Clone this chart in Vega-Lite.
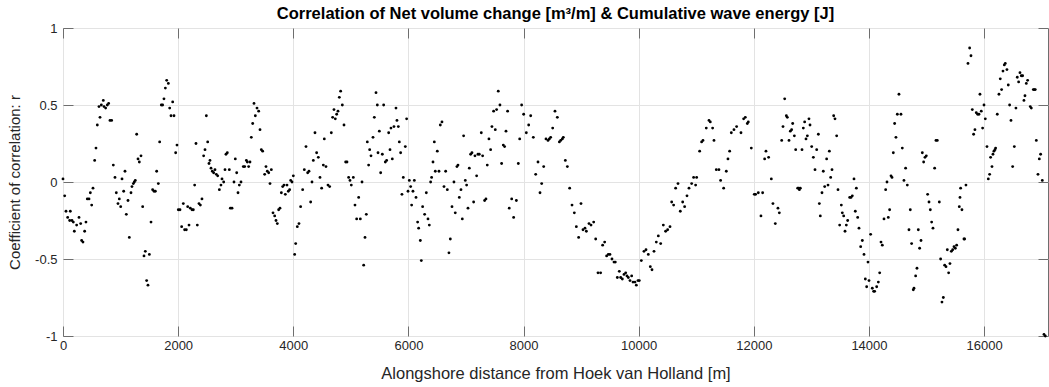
{
"$schema": "https://vega.github.io/schema/vega-lite/v6.json",
"width": 985, "height": 308,
"autosize": {"type": "none"},
"padding": {"left": 63, "top": 28, "right": 1, "bottom": 51},
"background": "white",
"title": {"text": "Correlation of Net volume change [m³/m] & Cumulative wave energy [J]", "fontSize": 16.5, "fontWeight": "bold", "font": "Liberation Sans", "color": "#000000", "offset": 0, "anchor": "middle"},
"config": {"view": {"stroke": "#6e6e6e", "strokeWidth": 1}, "font": "Liberation Sans"},
"data": {"values": [
{"d":0,"r":0.02},{"d":29,"r":-0.09},{"d":52,"r":-0.19},{"d":81,"r":-0.23},{"d":116,"r":-0.25},{"d":127,"r":-0.19},{"d":156,"r":-0.25},{"d":179,"r":-0.26},{"d":197,"r":-0.32},{"d":237,"r":-0.28},{"d":278,"r":-0.23},{"d":307,"r":-0.27},{"d":324,"r":-0.38},{"d":347,"r":-0.39},{"d":376,"r":-0.32},{"d":399,"r":-0.26},{"d":422,"r":-0.11},{"d":452,"r":-0.11},{"d":475,"r":-0.07},{"d":498,"r":-0.15},{"d":521,"r":-0.04},{"d":550,"r":0.14},{"d":573,"r":0.22},{"d":596,"r":0.37},{"d":625,"r":0.49},{"d":643,"r":0.42},{"d":666,"r":0.5},{"d":700,"r":0.53},{"d":712,"r":0.49},{"d":741,"r":0.48},{"d":770,"r":0.5},{"d":793,"r":0.51},{"d":816,"r":0.4},{"d":845,"r":0.4},{"d":874,"r":0.11},{"d":903,"r":0.03},{"d":926,"r":-0.07},{"d":955,"r":-0.14},{"d":978,"r":-0.11},{"d":1002,"r":-0.16},{"d":1025,"r":0.02},{"d":1054,"r":-0.06},{"d":1077,"r":0.07},{"d":1100,"r":-0.21},{"d":1129,"r":-0.12},{"d":1152,"r":-0.36},{"d":1181,"r":-0.07},{"d":1198,"r":-0.03},{"d":1222,"r":-0.01},{"d":1239,"r":0.0},{"d":1256,"r":0.01},{"d":1280,"r":0.31},{"d":1303,"r":0.15},{"d":1326,"r":0.13},{"d":1355,"r":0.17},{"d":1384,"r":-0.16},{"d":1407,"r":-0.48},{"d":1430,"r":-0.45},{"d":1453,"r":-0.64},{"d":1476,"r":-0.67},{"d":1500,"r":-0.47},
{"d":1529,"r":-0.26},{"d":1557,"r":-0.05},{"d":1581,"r":-0.06},{"d":1604,"r":-0.06},{"d":1627,"r":0.07},{"d":1656,"r":-0.01},{"d":1679,"r":0.26},{"d":1708,"r":0.5},{"d":1731,"r":0.5},{"d":1754,"r":0.54},{"d":1778,"r":0.61},{"d":1801,"r":0.66},{"d":1830,"r":0.64},{"d":1853,"r":0.48},{"d":1876,"r":0.43},{"d":1905,"r":0.52},{"d":1928,"r":0.43},{"d":1957,"r":0.19},{"d":1980,"r":0.24},{"d":2003,"r":-0.18},{"d":2032,"r":-0.18},{"d":2061,"r":-0.29},{"d":2090,"r":-0.14},{"d":2113,"r":-0.31},{"d":2142,"r":-0.31},{"d":2166,"r":-0.16},{"d":2189,"r":-0.28},{"d":2212,"r":-0.17},{"d":2241,"r":-0.18},{"d":2264,"r":-0.18},{"d":2287,"r":-0.02},{"d":2310,"r":0.25},{"d":2333,"r":-0.28},{"d":2362,"r":-0.14},{"d":2386,"r":-0.15},{"d":2414,"r":-0.11},{"d":2443,"r":0.17},{"d":2467,"r":0.21},{"d":2490,"r":0.43},{"d":2513,"r":0.26},{"d":2536,"r":0.12},{"d":2553,"r":0.14},{"d":2571,"r":0.09},{"d":2594,"r":0.07},{"d":2617,"r":0.06},{"d":2640,"r":0.08},{"d":2663,"r":0.05},{"d":2687,"r":0.04},{"d":2716,"r":-0.05},{"d":2744,"r":-0.02},{"d":2762,"r":0.02},{"d":2791,"r":0.0},{"d":2814,"r":0.08},{"d":2831,"r":0.18},{"d":2854,"r":0.19},{"d":2889,"r":0.08},{"d":2907,"r":-0.17},{"d":2936,"r":-0.17},{"d":2970,"r":0.0},{"d":2993,"r":0.15},{"d":3017,"r":0.06},{"d":3040,"r":-0.07},{"d":3063,"r":-0.02},
{"d":3092,"r":0.0},{"d":3132,"r":0.1},{"d":3156,"r":0.1},{"d":3185,"r":0.14},{"d":3202,"r":0.13},{"d":3225,"r":0.1},{"d":3248,"r":0.13},{"d":3271,"r":0.29},{"d":3295,"r":0.38},{"d":3318,"r":0.51},{"d":3341,"r":0.43},{"d":3370,"r":0.48},{"d":3399,"r":0.46},{"d":3422,"r":0.34},{"d":3445,"r":0.21},{"d":3468,"r":0.2},{"d":3503,"r":0.05},{"d":3526,"r":0.1},{"d":3549,"r":0.07},{"d":3573,"r":0.06},{"d":3596,"r":-0.01},{"d":3619,"r":0.08},{"d":3648,"r":-0.2},{"d":3677,"r":-0.22},{"d":3700,"r":-0.25},{"d":3723,"r":-0.27},{"d":3746,"r":-0.18},{"d":3769,"r":-0.17},{"d":3793,"r":-0.07},{"d":3816,"r":-0.03},{"d":3839,"r":-0.02},{"d":3862,"r":-0.08},{"d":3891,"r":-0.02},{"d":3914,"r":-0.06},{"d":3937,"r":-0.05},{"d":3955,"r":0.01},{"d":3978,"r":0.0},{"d":4001,"r":0.04},{"d":4024,"r":-0.47},{"d":4042,"r":-0.4},{"d":4070,"r":-0.29},{"d":4099,"r":-0.27},{"d":4128,"r":-0.16},{"d":4163,"r":-0.05},{"d":4192,"r":0.08},{"d":4221,"r":0.23},{"d":4250,"r":0.06},{"d":4273,"r":0.07},{"d":4302,"r":-0.13},{"d":4325,"r":0.0},{"d":4348,"r":0.14},{"d":4377,"r":0.32},{"d":4406,"r":0.19},{"d":4435,"r":0.16},{"d":4464,"r":0.03},{"d":4493,"r":-0.04},{"d":4522,"r":0.11},{"d":4539,"r":0.28},{"d":4568,"r":0.1},{"d":4603,"r":-0.02},{"d":4632,"r":-0.03},
{"d":4661,"r":0.32},{"d":4684,"r":0.42},{"d":4707,"r":0.47},{"d":4730,"r":0.41},{"d":4754,"r":0.44},{"d":4777,"r":0.46},{"d":4800,"r":0.55},{"d":4823,"r":0.59},{"d":4852,"r":0.5},{"d":4881,"r":0.37},{"d":4910,"r":0.13},{"d":4933,"r":0.13},{"d":4962,"r":0.03},{"d":4985,"r":0.01},{"d":5008,"r":-0.02},{"d":5043,"r":0.03},{"d":5072,"r":-0.15},{"d":5101,"r":-0.24},{"d":5136,"r":-0.1},{"d":5165,"r":-0.24},{"d":5194,"r":0.0},{"d":5223,"r":-0.54},{"d":5246,"r":-0.36},{"d":5269,"r":-0.21},{"d":5286,"r":0.26},{"d":5309,"r":0.11},{"d":5327,"r":0.21},{"d":5350,"r":0.17},{"d":5385,"r":0.29},{"d":5408,"r":0.42},{"d":5437,"r":0.58},{"d":5460,"r":0.5},{"d":5472,"r":0.19},{"d":5495,"r":0.33},{"d":5518,"r":0.06},{"d":5547,"r":0.18},{"d":5570,"r":0.5},{"d":5599,"r":0.13},{"d":5622,"r":0.14},{"d":5657,"r":0.32},{"d":5680,"r":0.21},{"d":5697,"r":0.35},{"d":5720,"r":0.15},{"d":5749,"r":0.36},{"d":5784,"r":0.48},{"d":5801,"r":0.4},{"d":5825,"r":0.36},{"d":5842,"r":0.26},{"d":5865,"r":0.19},{"d":5888,"r":-0.08},{"d":5911,"r":0.03},{"d":5946,"r":0.23},{"d":5969,"r":0.41},{"d":5993,"r":-0.06},{"d":6016,"r":0.01},{"d":6039,"r":-0.03},{"d":6056,"r":-0.15},{"d":6079,"r":-0.06},{"d":6103,"r":0.01},{"d":6132,"r":-0.1},{"d":6160,"r":-0.26},{"d":6178,"r":-0.3},
{"d":6207,"r":-0.38},{"d":6224,"r":-0.51},{"d":6247,"r":-0.16},{"d":6282,"r":-0.21},{"d":6311,"r":-0.07},{"d":6340,"r":-0.24},{"d":6363,"r":-0.28},{"d":6386,"r":0.0},{"d":6403,"r":0.03},{"d":6427,"r":0.13},{"d":6450,"r":0.26},{"d":6467,"r":0.07},{"d":6502,"r":0.2},{"d":6531,"r":0.07},{"d":6554,"r":0.37},{"d":6583,"r":0.39},{"d":6618,"r":-0.03},{"d":6647,"r":0.07},{"d":6676,"r":-0.05},{"d":6704,"r":-0.46},{"d":6728,"r":-0.37},{"d":6757,"r":-0.16},{"d":6791,"r":0.0},{"d":6814,"r":-0.2},{"d":6843,"r":0.1},{"d":6861,"r":0.11},{"d":6884,"r":-0.1},{"d":6913,"r":-0.05},{"d":6936,"r":-0.24},{"d":6959,"r":0.3},{"d":6988,"r":0.01},{"d":7011,"r":-0.02},{"d":7035,"r":-0.17},{"d":7058,"r":0.09},{"d":7081,"r":0.18},{"d":7104,"r":0.19},{"d":7133,"r":-0.13},{"d":7156,"r":0.17},{"d":7185,"r":0.04},{"d":7208,"r":0.18},{"d":7231,"r":0.18},{"d":7266,"r":0.32},{"d":7289,"r":0.17},{"d":7324,"r":-0.12},{"d":7347,"r":-0.11},{"d":7370,"r":0.11},{"d":7399,"r":0.28},{"d":7428,"r":0.21},{"d":7451,"r":0.36},{"d":7480,"r":0.46},{"d":7509,"r":0.34},{"d":7532,"r":0.47},{"d":7561,"r":0.59},{"d":7590,"r":0.5},{"d":7619,"r":0.12},{"d":7648,"r":0.24},{"d":7671,"r":0.23},{"d":7695,"r":0.33},{"d":7723,"r":0.46},{"d":7752,"r":-0.17},
{"d":7794,"r":-0.11},{"d":7828,"r":-0.23},{"d":7875,"r":-0.12},{"d":7909,"r":0.12},{"d":7933,"r":0.28},{"d":7967,"r":0.5},{"d":8002,"r":0.44},{"d":8048,"r":0.32},{"d":8089,"r":0.37},{"d":8124,"r":0.43},{"d":8170,"r":0.29},{"d":8211,"r":0.05},{"d":8251,"r":0.13},{"d":8286,"r":-0.07},{"d":8315,"r":-0.01},{"d":8350,"r":0.1},{"d":8390,"r":0.28},{"d":8425,"r":0.27},{"d":8448,"r":0.28},{"d":8471,"r":0.29},{"d":8506,"r":0.35},{"d":8546,"r":0.46},{"d":8587,"r":0.42},{"d":8622,"r":0.26},{"d":8645,"r":0.27},{"d":8674,"r":0.28},{"d":8691,"r":0.29},{"d":8726,"r":0.14},{"d":8761,"r":0.1},{"d":8801,"r":-0.04},{"d":8842,"r":-0.15},{"d":8882,"r":-0.2},{"d":8917,"r":-0.29},{"d":8957,"r":-0.36},{"d":8998,"r":-0.14},{"d":9033,"r":-0.31},{"d":9067,"r":-0.3},{"d":9091,"r":-0.32},{"d":9137,"r":-0.27},{"d":9172,"r":-0.28},{"d":9218,"r":-0.26},{"d":9253,"r":-0.37},{"d":9293,"r":-0.59},
{"d":9339,"r":-0.59},{"d":9374,"r":-0.41},{"d":9409,"r":-0.39},{"d":9443,"r":-0.48},{"d":9472,"r":-0.47},{"d":9501,"r":-0.47},{"d":9536,"r":-0.5},{"d":9571,"r":-0.52},{"d":9594,"r":-0.52},{"d":9629,"r":-0.62},{"d":9663,"r":-0.58},{"d":9687,"r":-0.62},{"d":9716,"r":-0.63},{"d":9745,"r":-0.6},{"d":9774,"r":-0.59},{"d":9797,"r":-0.61},{"d":9820,"r":-0.62},{"d":9849,"r":-0.64},{"d":9878,"r":-0.61},{"d":9901,"r":-0.65},{"d":9936,"r":-0.65},{"d":9959,"r":-0.67},{"d":9988,"r":-0.64},{"d":10011,"r":-0.64},{"d":10046,"r":-0.51},{"d":10092,"r":-0.45},{"d":10127,"r":-0.44},{"d":10167,"r":-0.47},{"d":10202,"r":-0.55},{"d":10231,"r":-0.57},{"d":10266,"r":-0.45},{"d":10306,"r":-0.39},{"d":10341,"r":-0.35},{"d":10382,"r":-0.4},{"d":10428,"r":-0.28},{"d":10468,"r":-0.32},{"d":10503,"r":-0.31},{"d":10544,"r":-0.29},{"d":10573,"r":-0.13},{"d":10607,"r":-0.15},{"d":10642,"r":-0.04},{"d":10683,"r":-0.01},{"d":10723,"r":-0.19},{"d":10764,"r":-0.13},{"d":10798,"r":-0.16},{"d":10839,"r":-0.09},{"d":10874,"r":-0.04},
{"d":10920,"r":-0.01},{"d":10954,"r":0.03},{"d":10989,"r":-0.02},{"d":11007,"r":0.03},{"d":11059,"r":0.2},{"d":11093,"r":0.26},{"d":11117,"r":0.27},{"d":11174,"r":0.35},{"d":11221,"r":0.4},{"d":11244,"r":0.39},{"d":11284,"r":0.35},{"d":11308,"r":0.27},{"d":11348,"r":0.08},{"d":11394,"r":0.08},{"d":11423,"r":0.01},{"d":11476,"r":-0.04},{"d":11522,"r":0.07},{"d":11551,"r":0.15},{"d":11580,"r":0.2},{"d":11609,"r":0.32},{"d":11655,"r":0.34},{"d":11701,"r":0.36},{"d":11777,"r":0.32},{"d":11823,"r":0.41},{"d":11852,"r":0.42},{"d":11887,"r":0.38},{"d":11904,"r":0.39},{"d":11956,"r":0.22},{"d":12008,"r":-0.08},{"d":12031,"r":-0.08},{"d":12078,"r":-0.07},{"d":12124,"r":-0.22},{"d":12153,"r":-0.07},{"d":12188,"r":0.15},{"d":12211,"r":0.2},{"d":12257,"r":0.16},{"d":12304,"r":0.02},{"d":12332,"r":-0.14},{"d":12373,"r":-0.27},{"d":12419,"r":-0.17},{"d":12443,"r":-0.2},
{"d":12484,"r":0.27},{"d":12507,"r":0.36},{"d":12536,"r":0.54},{"d":12565,"r":0.43},{"d":12582,"r":0.42},{"d":12611,"r":0.27},{"d":12634,"r":0.33},{"d":12657,"r":0.34},{"d":12675,"r":0.38},{"d":12704,"r":0.3},{"d":12727,"r":0.21},{"d":12762,"r":-0.04},{"d":12779,"r":-0.04},{"d":12791,"r":-0.05},{"d":12808,"r":-0.04},{"d":12837,"r":0.21},{"d":12860,"r":0.35},{"d":12883,"r":0.39},{"d":12906,"r":0.28},{"d":12930,"r":0.3},{"d":12958,"r":0.41},{"d":12976,"r":0.37},{"d":13005,"r":0.23},{"d":13034,"r":0.16},{"d":13063,"r":0.08},{"d":13092,"r":0.21},{"d":13121,"r":0.31},{"d":13138,"r":-0.14},{"d":13155,"r":-0.22},{"d":13184,"r":-0.07},{"d":13207,"r":0.07},{"d":13231,"r":-0.03},{"d":13265,"r":0.15},{"d":13289,"r":-0.02},{"d":13312,"r":0.2},{"d":13335,"r":0.03},{"d":13358,"r":0.08},{"d":13387,"r":0.43},{"d":13410,"r":0.41},{"d":13439,"r":0.3},{"d":13462,"r":-0.05},{"d":13491,"r":-0.28},{"d":13520,"r":-0.15},{"d":13537,"r":-0.2},{"d":13561,"r":-0.22},{"d":13584,"r":-0.32},{"d":13607,"r":-0.28},{"d":13630,"r":-0.25},{"d":13665,"r":-0.1},{"d":13688,"r":-0.1},{"d":13711,"r":-0.09},{"d":13740,"r":0.02},{"d":13763,"r":-0.19},{"d":13781,"r":-0.04},{"d":13804,"r":-0.23},{"d":13827,"r":-0.3},{"d":13856,"r":-0.42},{"d":13885,"r":-0.38},{"d":13914,"r":-0.47},{"d":13937,"r":-0.63},{"d":13960,"r":-0.68},{"d":13983,"r":-0.52},{"d":14001,"r":-0.64},
{"d":14029,"r":-0.34},{"d":14058,"r":-0.69},{"d":14081,"r":-0.71},{"d":14099,"r":-0.71},{"d":14134,"r":-0.68},{"d":14163,"r":-0.65},{"d":14186,"r":-0.59},{"d":14209,"r":-0.39},{"d":14232,"r":-0.41},{"d":14261,"r":-0.24},{"d":14290,"r":-0.05},{"d":14313,"r":0.0},{"d":14336,"r":-0.23},{"d":14359,"r":-0.18},{"d":14383,"r":0.04},{"d":14400,"r":0.03},{"d":14423,"r":0.19},{"d":14446,"r":0.38},{"d":14469,"r":0.29},{"d":14493,"r":0.44},{"d":14521,"r":0.57},{"d":14556,"r":0.44},{"d":14579,"r":0.22},{"d":14608,"r":0.01},{"d":14637,"r":0.09},{"d":14666,"r":-0.02},{"d":14695,"r":-0.31},{"d":14718,"r":-0.18},{"d":14741,"r":-0.4},{"d":14770,"r":-0.7},{"d":14782,"r":-0.69},{"d":14811,"r":-0.61},{"d":14834,"r":-0.56},{"d":14857,"r":-0.31},{"d":14880,"r":-0.43},{"d":14904,"r":-0.38},{"d":14927,"r":0.19},{"d":14950,"r":0.13},{"d":14973,"r":0.16},{"d":14996,"r":0.17},{"d":15019,"r":-0.08},{"d":15043,"r":-0.13},{"d":15066,"r":-0.18},{"d":15089,"r":-0.26},{"d":15112,"r":-0.3},{"d":15141,"r":0.09},{"d":15164,"r":0.27},{"d":15187,"r":0.27},{"d":15222,"r":-0.13},{"d":15245,"r":-0.5},{"d":15268,"r":-0.78},{"d":15292,"r":-0.75},{"d":15315,"r":-0.54},{"d":15338,"r":-0.55},{"d":15361,"r":-0.44},{"d":15384,"r":-0.59},{"d":15407,"r":-0.53},{"d":15431,"r":-0.45},{"d":15454,"r":-0.44},{"d":15477,"r":-0.42},{"d":15500,"r":-0.43},{"d":15523,"r":-0.41},{"d":15546,"r":-0.31},{"d":15569,"r":-0.16},{"d":15581,"r":-0.1},
{"d":15592,"r":-0.04},{"d":15615,"r":-0.18},{"d":15650,"r":-0.37},{"d":15662,"r":-0.37},{"d":15685,"r":-0.02},{"d":15720,"r":0.77},{"d":15749,"r":0.87},{"d":15772,"r":0.82},{"d":15795,"r":0.47},{"d":15818,"r":0.31},{"d":15841,"r":0.34},{"d":15864,"r":0.45},{"d":15888,"r":0.44},{"d":15911,"r":0.44},{"d":15928,"r":0.57},{"d":15951,"r":0.46},{"d":15974,"r":0.35},{"d":15998,"r":0.5},{"d":16021,"r":0.41},{"d":16050,"r":0.23},{"d":16073,"r":0.02},{"d":16096,"r":0.05},{"d":16113,"r":0.16},{"d":16137,"r":0.1},{"d":16154,"r":0.18},{"d":16171,"r":0.2},{"d":16189,"r":0.21},{"d":16200,"r":0.22},{"d":16229,"r":0.44},{"d":16258,"r":0.57},{"d":16281,"r":0.67},{"d":16304,"r":0.6},{"d":16328,"r":0.72},{"d":16351,"r":0.76},{"d":16368,"r":0.77},{"d":16397,"r":0.73},{"d":16420,"r":0.63},{"d":16443,"r":0.5},{"d":16467,"r":0.4},{"d":16496,"r":0.1},{"d":16525,"r":0.23},{"d":16553,"r":0.48},{"d":16577,"r":0.68},{"d":16600,"r":0.65},{"d":16623,"r":0.71},{"d":16646,"r":0.69},{"d":16669,"r":0.69},{"d":16692,"r":0.53},{"d":16710,"r":0.56},{"d":16733,"r":0.64},{"d":16756,"r":0.66},{"d":16802,"r":0.49},{"d":16820,"r":0.48},{"d":16855,"r":0.6},{"d":16872,"r":0.6},{"d":16889,"r":0.6},{"d":16907,"r":0.27},{"d":16936,"r":0.05},{"d":16959,"r":0.15},{"d":16982,"r":0.18},{"d":17011,"r":0.01},{"d":17040,"r":-0.99},{"d":17063,"r":-1.0}
]},
"layer": [
{"mark": {"type": "point", "filled": true, "shape": "circle", "size": 8, "color": "#000000", "opacity": 1},
 "encoding": {
  "x": {"field": "d", "type": "quantitative", "scale": {"domain": [0, 17110], "nice": false, "zero": false},
   "axis": {"orient": "bottom", "title": "Alongshore distance from Hoek van Holland [m]", "values": [0,2000,4000,6000,8000,10000,12000,14000,16000], "format": "d", "labelFlush": false,
    "grid": true, "gridColor": "#e3e3e3", "domain": false, "ticks": true, "tickSize": -10, "tickColor": "#6e6e6e",
    "labelPadding": 13, "labelFontSize": 13, "labelColor": "#262626", "labelFont": "Liberation Sans",
    "titleFontSize": 16.5, "titleFontWeight": "normal", "titleColor": "#262626", "titleFont": "Liberation Sans", "titlePadding": 13}},
  "y": {"field": "r", "type": "quantitative", "scale": {"domain": [-1, 1], "nice": false, "zero": false},
   "axis": {"orient": "left", "title": "Coefficient of correlation: r", "values": [-1,-0.5,0,0.5,1], "labelExpr": "'' + datum.value", "labelFlush": false,
    "grid": true, "gridColor": "#e3e3e3", "domain": false, "ticks": true, "tickSize": -10, "tickColor": "#6e6e6e",
    "labelPadding": 16, "labelFontSize": 13, "labelColor": "#262626", "labelFont": "Liberation Sans",
    "titleFontSize": 15, "titleFontWeight": "normal", "titleColor": "#262626", "titleFont": "Liberation Sans", "titlePadding": 12}}
 }},
{"mark": {"type": "point", "opacity": 0},
 "encoding": {
  "x": {"field": "d", "type": "quantitative", "scale": {"domain": [0, 17110], "nice": false, "zero": false},
   "axis": {"orient": "top", "title": null, "values": [0,2000,4000,6000,8000,10000,12000,14000,16000], "labels": false, "grid": false, "domain": false, "tickSize": -10, "tickColor": "#6e6e6e"}},
  "y": {"field": "r", "type": "quantitative", "scale": {"domain": [-1, 1], "nice": false, "zero": false},
   "axis": {"orient": "right", "title": null, "values": [-1,-0.5,0,0.5,1], "labels": false, "grid": false, "domain": false, "tickSize": -10, "tickColor": "#6e6e6e"}}
 }}
],
"resolve": {"axis": {"x": "independent", "y": "independent"}}
}
